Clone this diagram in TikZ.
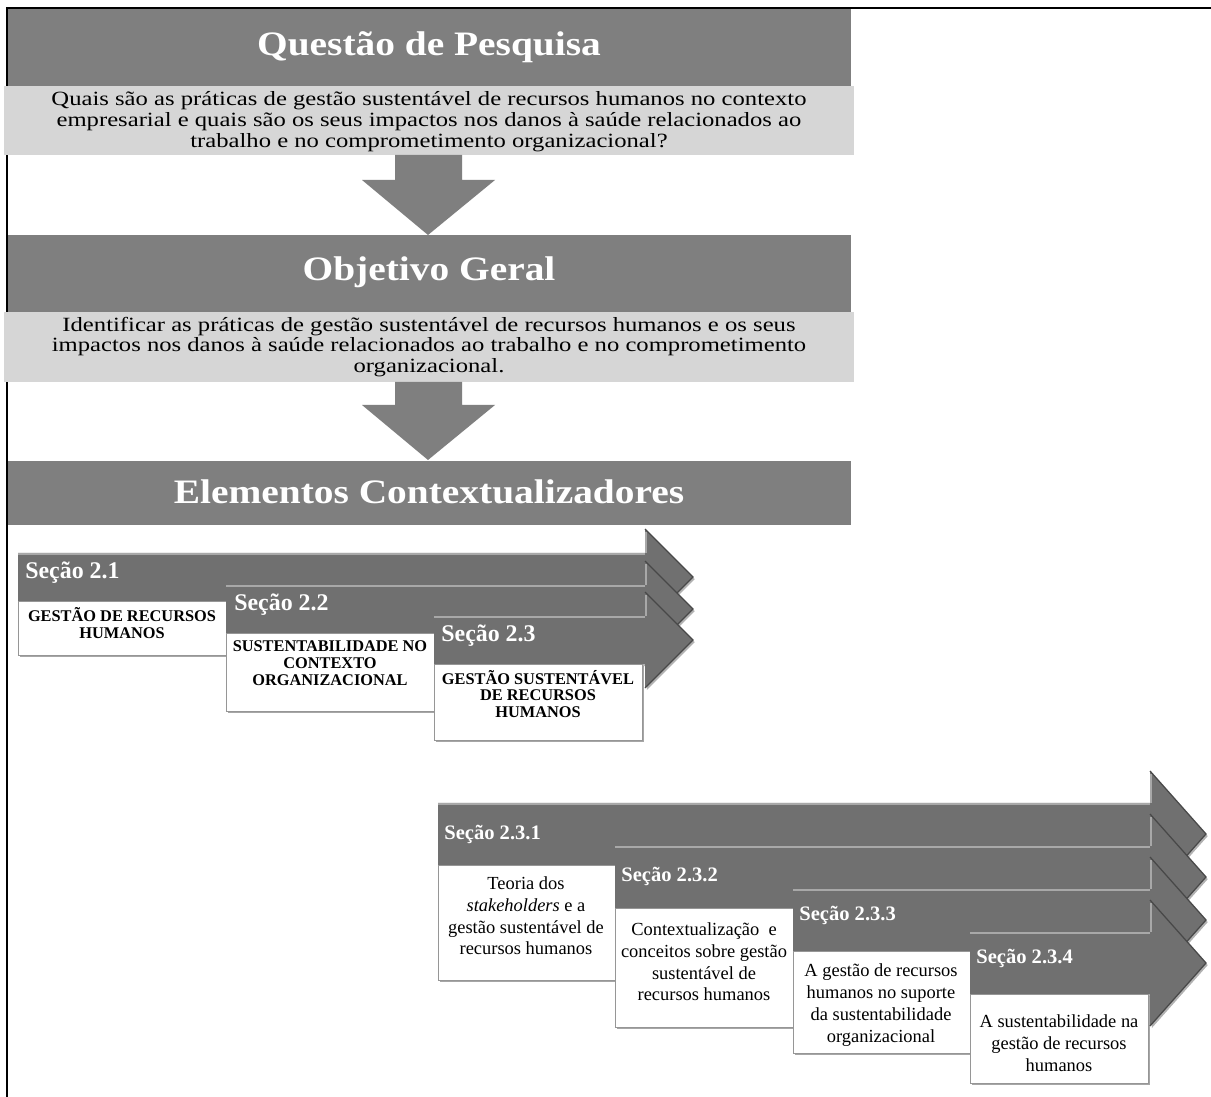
\documentclass[tikz,border=0pt]{standalone}
\usepackage{fontspec}
\setmainfont{Liberation Serif}
\newfontfamily\widefont[FakeStretch=1.15]{Liberation Serif}
\newfontfamily\panelfont[FakeStretch=1.22]{Liberation Serif}
\usetikzlibrary{shadows}

\definecolor{headgray}{RGB}{127,127,127}
\definecolor{panelgray}{RGB}{214,214,214}
\definecolor{arrowgray}{RGB}{112,112,112}
\definecolor{arrowlight}{RGB}{168,168,168}
\definecolor{arrowdark}{RGB}{72,72,72}
\definecolor{boxedge}{RGB}{150,150,150}

% #1 left end, #2 head base, #3 tip, #4 centre line, #5 half body, #6 half head
\newcommand\secarrow[6]{%
  \fill[arrowgray, arrowshadow] (#1,#4-#5) -- (#2,#4-#5) -- (#2,#4-#6) -- (#3,#4)
        -- (#2,#4+#6) -- (#2,#4+#5) -- (#1,#4+#5) -- cycle;
  \draw[arrowlight, line width=1.1pt] (#1,#4-#5+1) -- (#2,#4-#5+1);
  \draw[arrowlight, line width=0.9pt] (#2+1,#4-#6+3) -- (#2+1,#4-#5);
  \draw[arrowdark, line width=0.7pt] (#2,#4-#6) -- (#3,#4) -- (#2,#4+#6);
}

\begin{document}
\begin{tikzpicture}[x=0.02cm, y=-0.02cm,
  title/.style={text=white, inner sep=0pt,
    font=\widefont\fontsize{19.5}{23}\selectfont\bfseries},
  paneltext/.style={align=center, inner sep=0pt,
    font=\panelfont\fontsize{11.5}{11.9}\selectfont},
  seclabel/.style={text=white, anchor=west, inner sep=0pt,
    font=\fontsize{13.6}{16}\selectfont\bfseries},
  subseclabel/.style={text=white, anchor=west, inner sep=0pt,
    font=\fontsize{11.7}{14}\selectfont\bfseries},
  captext/.style={align=center, inner sep=0pt,
    font=\fontsize{9.3}{9.6}\selectfont\bfseries},
  boxtext/.style={align=center, inner sep=0pt,
    font=\fontsize{10.5}{12.4}\selectfont},
  secbox/.style={fill=white, draw=boxedge, line width=0.5pt,
    drop shadow={shadow xshift=1.2pt, shadow yshift=-1.4pt, opacity=0.35, fill=black}},
  arrowshadow/.style={drop shadow={shadow xshift=1pt, shadow yshift=-1.2pt, opacity=0.3, fill=black}},
  blockarrow/.style={fill=headgray}]

\useasboundingbox (0,0) rectangle (1211,1097);
\fill[white] (0,0) rectangle (1211,1097);

% outer frame (top and left)
\draw[line width=1.2pt] (7,1097) -- (7,8) -- (1211,8);

% ---- research question
\fill[headgray] (8,9) rectangle (851,86);
\fill[panelgray] (4,86) rectangle (854,155);
\node[title] (qtitle) at (429,47) {Questão de Pesquisa};
\node[paneltext] (qtext) at (429,122)
  {Quais são as práticas de gestão sustentável de recursos humanos no contexto\\
   empresarial e quais são os seus impactos nos danos à saúde relacionados ao\\
   trabalho e no comprometimento organizacional?};

\fill[blockarrow] (395,155) -- (462,155) -- (462,180) -- (495,180) -- (428,235)
  -- (362,180) -- (395,180) -- cycle;

% ---- general objective
\fill[headgray] (8,235) rectangle (851,312);
\fill[panelgray] (4,312) rectangle (854,382);
\node[title] (otitle) at (429,272) {Objetivo Geral};
\node[paneltext] (otext) at (429,347)
  {Identificar as práticas de gestão sustentável de recursos humanos e os seus\\
   impactos nos danos à saúde relacionados ao trabalho e no comprometimento\\
   organizacional.};

\fill[blockarrow] (395,382) -- (462,382) -- (462,405) -- (495,405) -- (428,460)
  -- (362,405) -- (395,405) -- cycle;

% ---- context elements
\fill[headgray] (8,461) rectangle (851,525);
\node[title] (etitle) at (429,492) {Elementos Contextualizadores};

% ---- sections 2.1 - 2.3
\secarrow{18}{645}{693}{577}{24}{48}
\node[seclabel] (s21) at (25,573) {Seção 2.1};
\draw[secbox] (18,601) rectangle (226,655);
\node[captext] (t21) at (122,623) {GESTÃO DE RECURSOS\\HUMANOS};

\secarrow{226}{645}{693}{609}{24}{48}
\node[seclabel] (s22) at (234,605) {Seção 2.2};
\draw[secbox] (226,633) rectangle (434,711);
\node[captext] (t22) at (330,663) {SUSTENTABILIDADE NO\\CONTEXTO\\ORGANIZACIONAL};

\secarrow{434}{645}{693}{640}{24}{48}
\node[seclabel] (s23) at (441,636) {Seção 2.3};
\draw[secbox] (434,664) rectangle (642,740);
\node[captext] (t23) at (538,694) {GESTÃO SUSTENTÁVEL\\DE RECURSOS\\HUMANOS};

% ---- subsections 2.3.1 - 2.3.4
\secarrow{438}{1150}{1206}{834}{31}{63}
\node[subseclabel] (s231) at (444,834) {Seção 2.3.1};
\draw[secbox] (438,865) rectangle (615,980);
\node[boxtext] (t231) at (526,916)
  {Teoria dos\\\textit{stakeholders} e a\\gestão sustentável de\\recursos humanos};

\secarrow{615}{1150}{1206}{877}{31}{63}
\node[subseclabel] (s232) at (621,876) {Seção 2.3.2};
\draw[secbox] (615,908) rectangle (793,1027);
\node[boxtext] (t232) at (704,962)
  {Contextualização~~e\\conceitos sobre gestão\\sustentável de\\recursos humanos};

\secarrow{793}{1150}{1206}{920}{31}{63}
\node[subseclabel] (s233) at (799,915) {Seção 2.3.3};
\draw[secbox] (793,951) rectangle (970,1053);
\node[boxtext] (t233) at (881,1005)
  {A gestão de recursos\\humanos no suporte\\da sustentabilidade\\organizacional};

\secarrow{970}{1150}{1206}{963}{31}{63}
\node[subseclabel] (s234) at (976,958) {Seção 2.3.4};
\draw[secbox] (970,994) rectangle (1148,1083);
\node[boxtext] (t234) at (1059,1043)
  {A sustentabilidade na\\gestão de recursos\\humanos};

\end{tikzpicture}
\end{document}
